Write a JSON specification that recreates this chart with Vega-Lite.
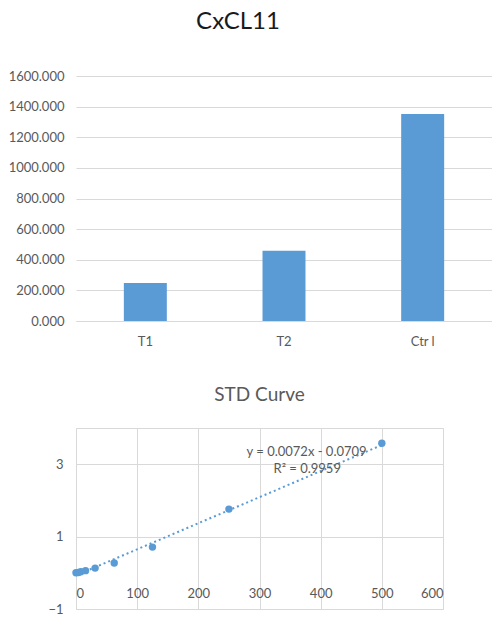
{
  "$schema": "https://vega.github.io/schema/vega-lite/v6.json",
  "padding": {"left": 8, "top": 10, "right": 0, "bottom": 0},
  "background": "white",
  "config": {
    "font": "Lato",
    "view": {"stroke": null},
    "axis": {
      "labelColor": "#595959",
      "labelFontSize": 13,
      "labelOverlap": false,
      "gridColor": "#d9d9d9",
      "domainColor": "#d9d9d9",
      "ticks": false,
      "title": null
    }
  },
  "spacing": 37,
  "vconcat": [
    {
      "width": 416,
      "height": 245,
      "title": {
        "text": "CxCL11",
        "fontSize": 24,
        "fontWeight": "normal",
        "color": "#1a1a1a",
        "dx": -46,
        "offset": 36
      },
      "data": {
        "values": [
          {"sample": "T1", "value": 248},
          {"sample": "T2", "value": 458},
          {"sample": "Ctr l", "value": 1352}
        ]
      },
      "mark": {"type": "bar", "color": "#5b9bd5"},
      "encoding": {
        "x": {
          "field": "sample",
          "type": "nominal",
          "sort": null,
          "scale": {"paddingInner": 0.69, "paddingOuter": 0.345},
          "axis": {"labelAngle": 0, "labelPadding": 14, "domain": true}
        },
        "y": {
          "field": "value",
          "type": "quantitative",
          "scale": {"domain": [0, 1600]},
          "axis": {
            "format": ".3f",
            "values": [0, 200, 400, 600, 800, 1000, 1200, 1400, 1600],
            "domain": false,
            "labelPadding": 12
          }
        }
      }
    },
    {
      "width": 367,
      "height": 181,
      "title": {
        "text": "STD Curve",
        "fontSize": 19,
        "fontWeight": "normal",
        "color": "#595959",
        "offset": 23
      },
      "view": {"stroke": "#d9d9d9"},
      "layer": [
        {
          "data": {
            "values": [
              {"conc": 0, "od": 0.0},
              {"conc": 3.9, "od": 0.01},
              {"conc": 7.8, "od": 0.03},
              {"conc": 15.6, "od": 0.06},
              {"conc": 31.25, "od": 0.13},
              {"conc": 62.5, "od": 0.27},
              {"conc": 125, "od": 0.71},
              {"conc": 250, "od": 1.76},
              {"conc": 500, "od": 3.58}
            ]
          },
          "mark": {"type": "circle", "color": "#5b9bd5", "opacity": 1, "size": 55},
          "encoding": {
            "x": {
              "field": "conc",
              "type": "quantitative",
              "scale": {"domain": [0, 600], "nice": false},
              "axis": {
                "values": [0, 100, 200, 300, 400, 500, 600],
                "offset": -36,
                "labelPadding": 14,
                "domain": false
              }
            },
            "y": {
              "field": "od",
              "type": "quantitative",
              "scale": {"domain": [-1, 4], "nice": false},
              "axis": {
                "values": [-1, 0, 1, 2, 3, 4],
                "domain": false,
                "labelOverlap": false,
                "labelPadding": 13
              }
            }
          }
        },
        {
          "data": {
            "values": [
              {"conc": 0, "od": -0.0709},
              {"conc": 500, "od": 3.5291}
            ]
          },
          "mark": {"type": "line", "color": "#5b9bd5", "strokeWidth": 2, "strokeDash": [2, 3]},
          "encoding": {
            "x": {"field": "conc", "type": "quantitative"},
            "y": {"field": "od", "type": "quantitative"}
          }
        },
        {
          "data": {
            "values": [
              {"conc": 377, "od": 3.35, "label": "y = 0.0072x - 0.0709"},
              {"conc": 378, "od": 2.87, "label": "R² = 0.9959"}
            ]
          },
          "mark": {"type": "text", "fontSize": 13, "color": "#595959"},
          "encoding": {
            "x": {"field": "conc", "type": "quantitative"},
            "y": {"field": "od", "type": "quantitative"},
            "text": {"field": "label"}
          }
        }
      ]
    }
  ]
}
